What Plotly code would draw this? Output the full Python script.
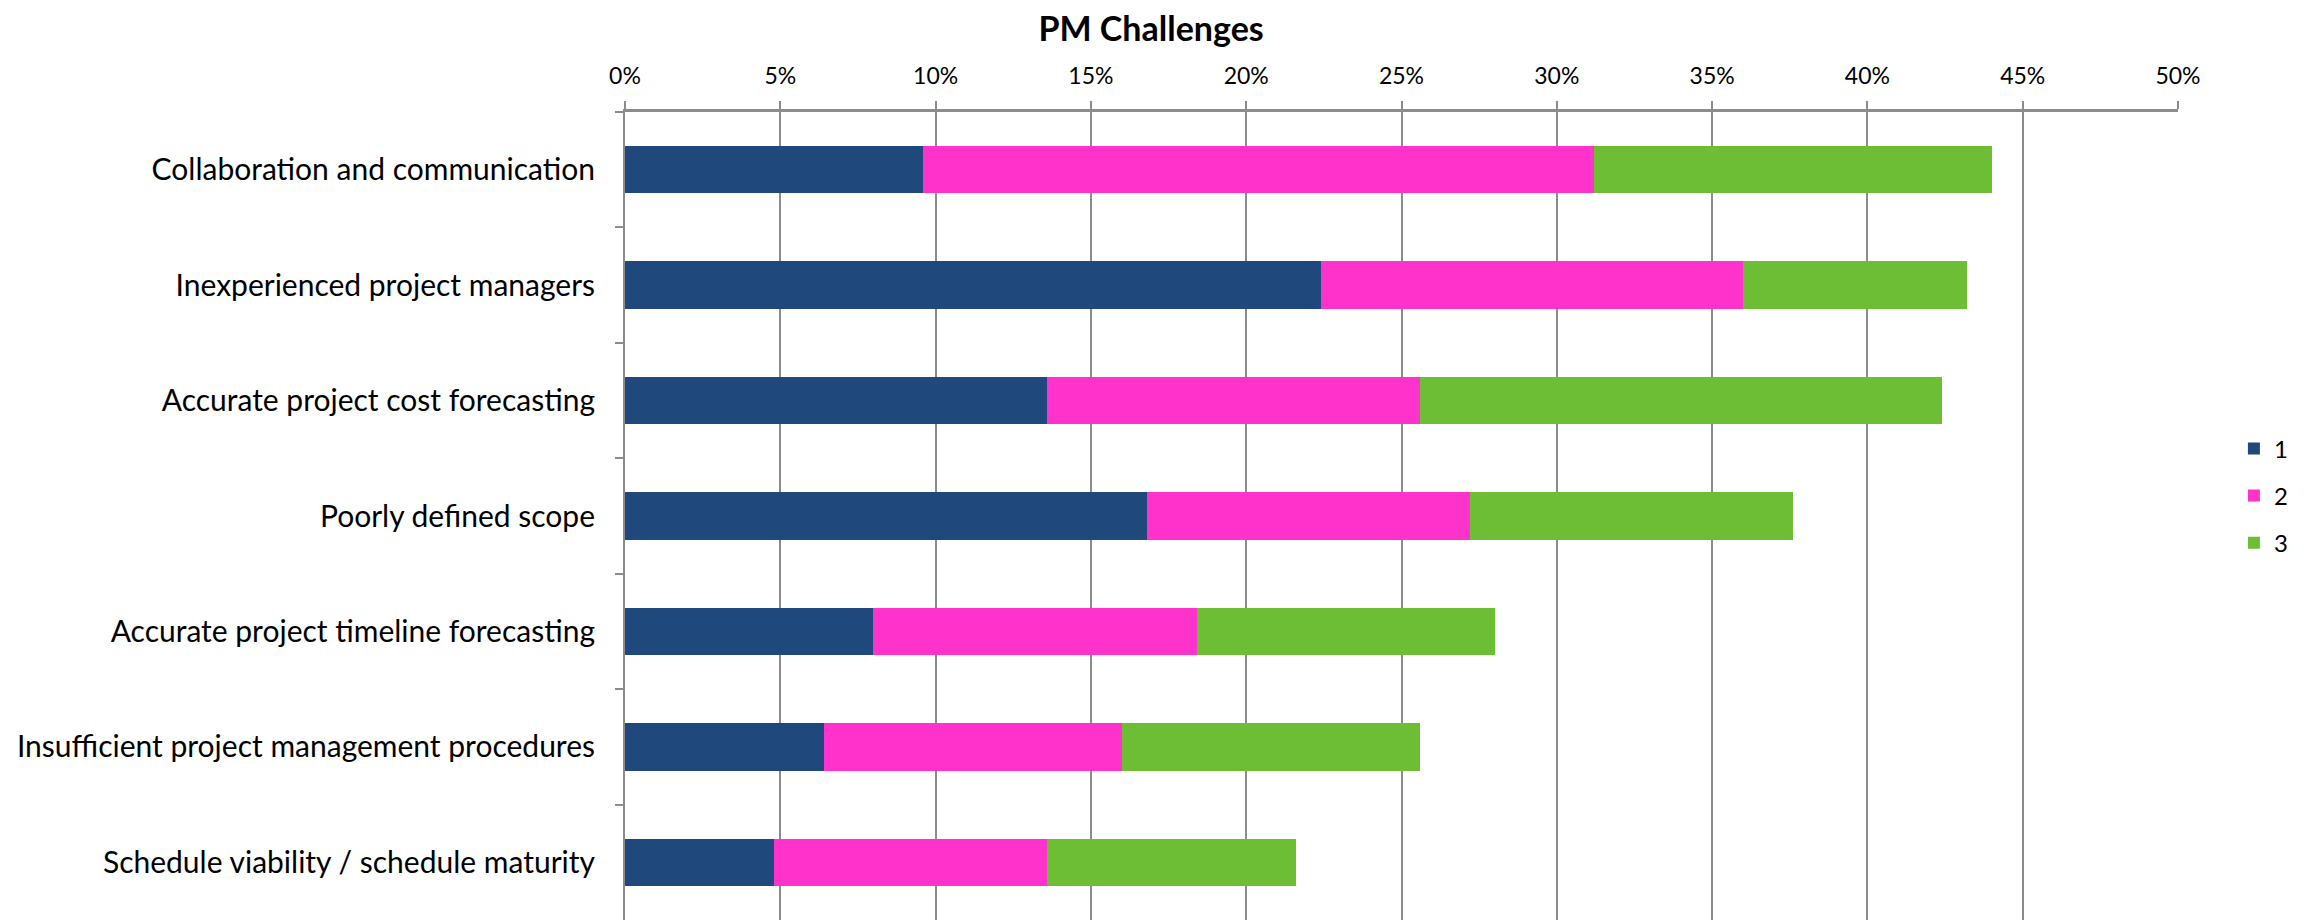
import plotly.graph_objs as go  # graph objects for the custom chart

# Categories (top to bottom as shown)
retos = [
    "Collaboration and communication",
    "Inexperienced project managers",
    "Accurate project cost forecasting",
    "Poorly defined scope",
    "Accurate project timeline forecasting",
    "Insufficient project management procedures",
    "Schedule viability / schedule maturity",
]

# Share of respondents per ranking (1, 2, 3)
rank_1 = [0.096, 0.224, 0.136, 0.168, 0.080, 0.064, 0.048]
rank_2 = [0.216, 0.136, 0.120, 0.104, 0.104, 0.096, 0.088]
rank_3 = [0.128, 0.072, 0.168, 0.104, 0.096, 0.096, 0.080]

series_names = ["1", "2", "3"]
series_colors = ["#1F497D", "#FF33CC", "#6DBD35"]

x_ticks = [0, 0.05, 0.10, 0.15, 0.20, 0.25, 0.30, 0.35, 0.40, 0.45, 0.50]
x_tick_labels = ["0%", "5%", "10%", "15%", "20%", "25%", "30%", "35%", "40%", "45%", "50%"]


# Crear grafico de barras apiladas horizontales
def grafico_pm_challenges():
    fig = go.Figure()
    for nombre, valores, color in zip(series_names, [rank_1, rank_2, rank_3], series_colors):
        fig.add_trace(go.Bar(
            y=retos,
            x=valores,
            name=nombre,
            orientation="h",
            legendgroup=nombre,
            marker=dict(color=color, line=dict(width=0)),
        ))

    gris = "#8c8c8c"
    fig.update_layout(
        barmode="stack",
        bargap=0.59,
        width=2300,
        height=913,
        paper_bgcolor="white",
        plot_bgcolor="white",
        font=dict(family="Lato, sans-serif", color="black"),
        title=dict(
            text="<b>PM Challenges</b>",
            x=0.497, xref="container", xanchor="center",
            y=0.99, yref="container", yanchor="top",
            font=dict(size=34, color="black"),
        ),
        margin=dict(l=617, r=130, t=104, b=1),
        legend=dict(
            x=1.036, xanchor="left",
            y=0.525, yanchor="middle",
            traceorder="grouped",
            tracegroupgap=13,
            font=dict(size=24),
            bgcolor="rgba(0,0,0,0)",
        ),
        xaxis=dict(
            side="top",
            range=[0, 0.5],
            tickvals=x_ticks,
            ticktext=x_tick_labels,
            tickfont=dict(size=23),
            showgrid=True,
            gridcolor=gris,
            gridwidth=1.5,
            zeroline=False,
            showline=True,
            linecolor=gris,
            linewidth=3,
            ticks="outside",
            ticklen=8,
            tickwidth=1.5,
            tickcolor=gris,
            ticklabelstandoff=8,
        ),
        yaxis=dict(
            autorange="reversed",
            tickfont=dict(size=30),
            showgrid=False,
            showline=True,
            linecolor=gris,
            linewidth=2,
            ticks="outside",
            tickson="boundaries",
            ticklen=8,
            tickwidth=2,
            tickcolor=gris,
            ticklabelstandoff=22,
        ),
    )
    return fig


fig = grafico_pm_challenges()
fig.write_html("out.html")
